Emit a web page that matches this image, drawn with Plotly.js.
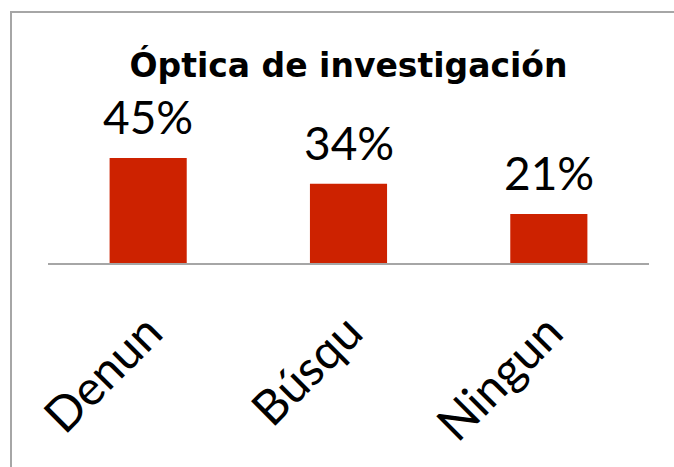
<!DOCTYPE html>
<html>
<head>
<meta charset="utf-8">
<script src="https://cdn.plot.ly/plotly-3.0.1.min.js"></script>
<style>html,body{margin:0;padding:0;background:#fff;}#chart{width:674px;height:467px;}</style>
</head>
<body>
<div id="chart"></div>
<script>
const categories = ["Denun", "Búsqu", "Ningun"];
const values = [45, 34, 21];
const valueLabels = ["45%", "34%", "21%"];
const chartTitle = "Óptica de investigación";

const FONT = "Lato, 'Century Gothic', sans-serif";
const TITLE_FONT = "'DejaVu Sans', 'Century Gothic', sans-serif";

const trace = {
  type: "bar",
  x: categories,
  y: values,
  marker: { color: "#CD2200" },
  hoverinfo: "none"
};

const annotations = categories.map((c, i) => ({
  x: c, y: values[i], xref: "x", yref: "y",
  text: valueLabels[i], showarrow: false,
  yanchor: "bottom", yshift: 12,
  font: { family: FONT, size: 46, color: "#000" }
}));

const layout = {
  width: 674, height: 467,
  margin: { l: 48, r: 25, t: 100, b: 204 },
  paper_bgcolor: "#fff", plot_bgcolor: "#fff",
  showlegend: false,
  bargap: 0.615,
  title: {
    text: "<b>" + chartTitle + "</b>",
    xref: "paper", x: 0.5, xanchor: "center",
    yref: "container", y: 1 - 65 / 467, yanchor: "middle",
    font: { family: TITLE_FONT, size: 33, color: "#000" }
  },
  xaxis: {
    type: "category",
    showline: true, linecolor: "#A6A6A6", linewidth: 2,
    ticks: "", tickangle: -45,
    ticklabelstandoff: 20,
    tickfont: { family: FONT, size: 48, color: "#000" },
    showgrid: false, zeroline: false, fixedrange: true
  },
  yaxis: {
    range: [0, 69.9],
    visible: false, showgrid: false, zeroline: false, fixedrange: true
  },
  annotations: annotations,
  shapes: [{
    type: "rect", xref: "paper", yref: "paper",
    x0: (11 - 48) / 601, x1: 1.2, y0: -1.5, y1: (263 - 12) / 163,
    line: { color: "#A6A6A6", width: 2 }, fillcolor: "rgba(0,0,0,0)", layer: "below"
  }]
};

Plotly.newPlot("chart", [trace], layout, { displayModeBar: false, staticPlot: true });
</script>
</body>
</html>
